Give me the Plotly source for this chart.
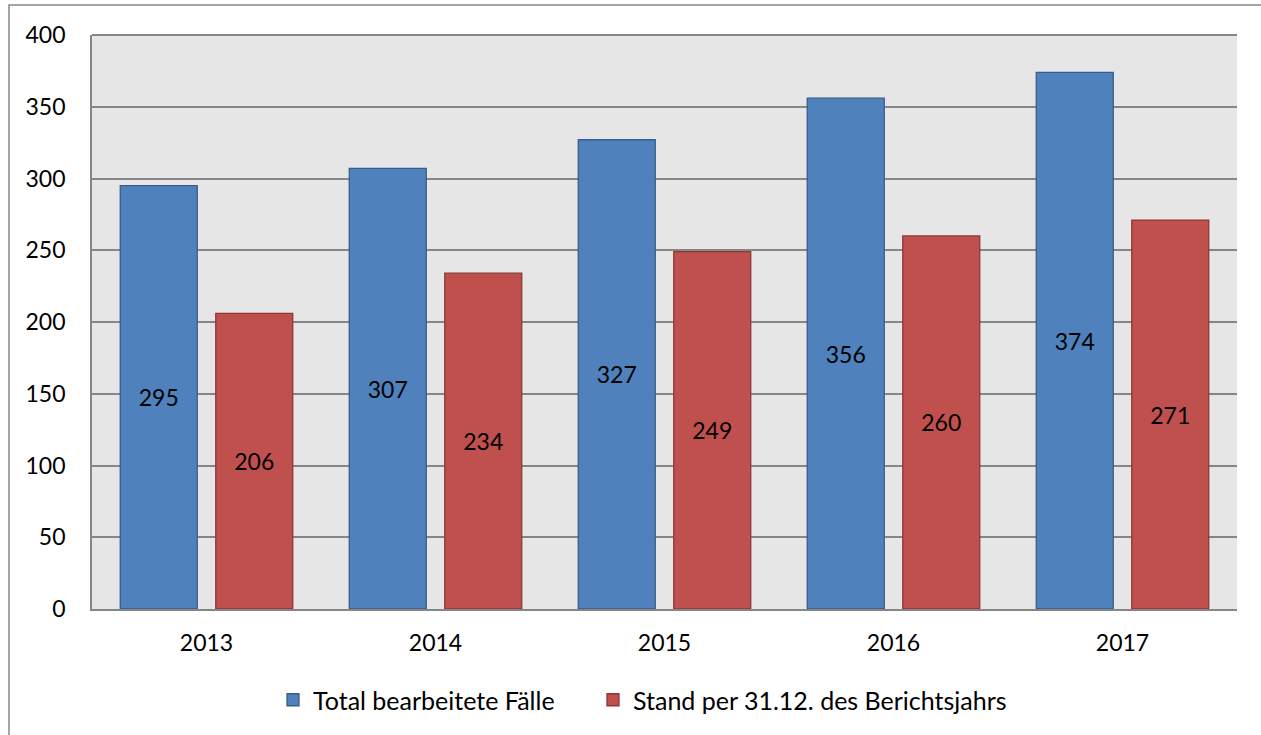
import plotly.graph_objects as go

years = ["2013", "2014", "2015", "2016", "2017"]
total_cases = [295, 307, 327, 356, 374]
open_cases = [206, 234, 249, 260, 271]
series_names = ["Total bearbeitete Fälle", "Stand per 31.12. des Berichtsjahrs"]
y_ticks = [0, 50, 100, 150, 200, 250, 300, 350, 400]

FONT = "Lato"
FS = 23
W, H = 1261, 735
L, R, T, B = 92, 24, 35, 126
pw, ph = W - L - R, H - T - B

fig = go.Figure()
fig.add_trace(go.Bar(
    x=years, y=total_cases, name=series_names[0], legend="legend",
    marker=dict(color="#4F81BD", line=dict(color="#385D8A", width=1.3)),
    text=total_cases, textposition="inside", insidetextanchor="middle",
    textfont=dict(family=FONT, size=FS, color="black"),
))
fig.add_trace(go.Bar(
    x=years, y=open_cases, name=series_names[1], legend="legend2",
    marker=dict(color="#C0504D", line=dict(color="#8C3836", width=1.3)),
    text=open_cases, textposition="inside", insidetextanchor="middle",
    textfont=dict(family=FONT, size=FS, color="black"),
))

# outer chart border (top/left visible)
fig.add_shape(type="rect", xref="paper", yref="paper",
              x0=(9 - L) / pw, x1=1.2, y0=-0.5, y1=(H - B - 5) / ph,
              line=dict(color="#878787", width=1.5), fillcolor="rgba(0,0,0,0)", layer="below")

leg_y = (H - B - 700) / ph
leg_common = dict(orientation="h", xanchor="left", y=leg_y, yanchor="middle",
                  font=dict(family=FONT, size=25), itemwidth=30, bgcolor="rgba(0,0,0,0)")
fig.update_layout(
    width=W, height=H,
    margin=dict(l=L, r=R, t=T, b=B, autoexpand=False),
    paper_bgcolor="white", plot_bgcolor="#E6E6E6",
    barmode="group", bargap=0.166, bargroupgap=0.194,
    font=dict(family=FONT, size=FS, color="black"),
    uniformtext=dict(mode="show", minsize=10),
    legend=dict(x=(273 - L) / pw, **leg_common),
    legend2=dict(x=(593 - L) / pw, **leg_common),
    showlegend=True,
)
fig.update_yaxes(range=[0, 400], tickvals=y_ticks, showgrid=True, gridcolor="#868686", gridwidth=1.8,
                 showline=True, linecolor="#868686", linewidth=1.8, ticks="", ticklabelstandoff=20,
                 zeroline=False, mirror=False)
fig.update_xaxes(showline=True, linecolor="#868686", linewidth=1.8, ticks="", ticklabelstandoff=12,
                 type="category")
# top border of plot area
fig.add_shape(type="line", xref="paper", yref="paper", x0=0, x1=1, y0=1, y1=1,
              line=dict(color="#868686", width=1.8))

fig.write_html("out.html", config={"displayModeBar": False},
               post_script="document.body.style.margin='0';document.body.style.overflow='hidden';")
